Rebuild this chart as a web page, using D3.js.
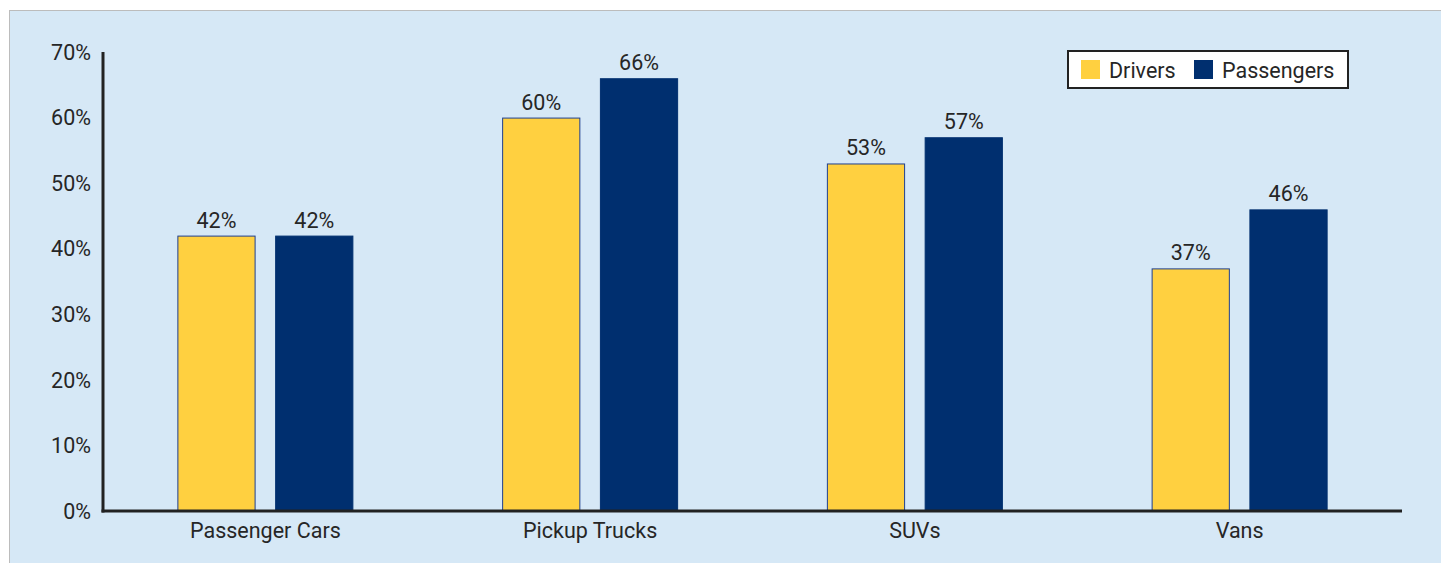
<!DOCTYPE html>
<html>
<head>
<meta charset="utf-8">
<script src="https://cdn.jsdelivr.net/npm/d3@7"></script>
<style>
  body { margin: 0; background: #fff; }
  svg text { font-family: Roboto, "Liberation Sans", sans-serif; fill: #262626; }
</style>
</head>
<body>
<svg id="chart" width="1441" height="563"></svg>
<script>
// data
const categories = ['Passenger Cars', 'Pickup Trucks', 'SUVs', 'Vans'];
const seriesNames = ['Drivers', 'Passengers'];
const drivers = [42, 60, 53, 37];
const passengers = [42, 66, 57, 46];
const yTicks = [0, 10, 20, 30, 40, 50, 60, 70];
const colors = { Drivers: '#ffd040', Passengers: '#002f6f' };

const svg = d3.select('#chart');
const W = 1441, H = 563;
const margin = { left: 103, right: 39, top: 52, bottom: 52 };
const fs = '21.5px';

// panel background
svg.append('rect')
  .attr('x', 9.5).attr('y', 10.5)
  .attr('width', W - 9).attr('height', H - 10)
  .attr('fill', '#d6e8f6')
  .attr('stroke', '#bcbcbc')
  .attr('stroke-width', 1);

const x0 = d3.scaleBand()
  .domain(categories)
  .range([margin.left, W - margin.right]);

const x1 = d3.scaleBand()
  .domain(seriesNames)
  .range([0, 176])
  .paddingInner(0.2);

const y = d3.scaleLinear()
  .domain([0, 70])
  .range([H - margin.bottom, margin.top]);

const rows = categories.map((c, i) => ({ cat: c, values: [
  { key: 'Drivers', value: drivers[i] },
  { key: 'Passengers', value: passengers[i] }
]}));

// y axis labels
svg.append('g').selectAll('text')
  .data(yTicks).enter().append('text')
  .attr('x', 91)
  .attr('y', d => y(d))
  .attr('dy', '0.36em')
  .attr('text-anchor', 'end')
  .style('font-size', fs)
  .text(d => d + '%');

// bars
const groups = svg.append('g').selectAll('g')
  .data(rows).enter().append('g')
  .attr('transform', d => `translate(${x0(d.cat) + x0.bandwidth() / 2 - 88},0)`);

groups.selectAll('rect')
  .data(d => d.values).enter().append('rect')
  .attr('x', d => x1(d.key) + 0.5)
  .attr('y', d => y(d.value) + 0.5)
  .attr('width', x1.bandwidth() - 1)
  .attr('height', d => y(0) - y(d.value) - 0.5)
  .attr('fill', d => colors[d.key])
  .attr('stroke', d => d.key === 'Drivers' ? '#1f3f8f' : colors[d.key])
  .attr('stroke-width', 1);

groups.selectAll('text')
  .data(d => d.values).enter().append('text')
  .attr('x', d => x1(d.key) + x1.bandwidth() / 2)
  .attr('y', d => y(d.value) - 8)
  .attr('text-anchor', 'middle')
  .style('font-size', fs)
  .text(d => d.value + '%');

// axes lines
svg.append('line')
  .attr('x1', margin.left).attr('x2', margin.left)
  .attr('y1', margin.top).attr('y2', y(0) + 1.5)
  .attr('stroke', '#222').attr('stroke-width', 3);
svg.append('line')
  .attr('x1', margin.left - 1.5).attr('x2', W - margin.right)
  .attr('y1', y(0)).attr('y2', y(0))
  .attr('stroke', '#222').attr('stroke-width', 3);

// category labels
svg.append('g').selectAll('text')
  .data(categories).enter().append('text')
  .attr('x', d => x0(d) + x0.bandwidth() / 2)
  .attr('y', y(0) + 27)
  .attr('text-anchor', 'middle')
  .style('font-size', fs)
  .text(d => d);

// legend
const lg = svg.append('g').attr('transform', 'translate(1068,51)');
lg.append('rect')
  .attr('width', 280).attr('height', 37)
  .attr('fill', '#fff')
  .attr('stroke', '#222').attr('stroke-width', 2);
const legendX = [13, 126];
seriesNames.forEach((s, i) => {
  lg.append('rect')
    .attr('x', legendX[i]).attr('y', 9)
    .attr('width', 19).attr('height', 19)
    .attr('fill', colors[s]);
  lg.append('text')
    .attr('x', legendX[i] + 28).attr('y', 19)
    .attr('dy', '0.36em')
    .style('font-size', fs)
    .text(s);
});
</script>
</body>
</html>
